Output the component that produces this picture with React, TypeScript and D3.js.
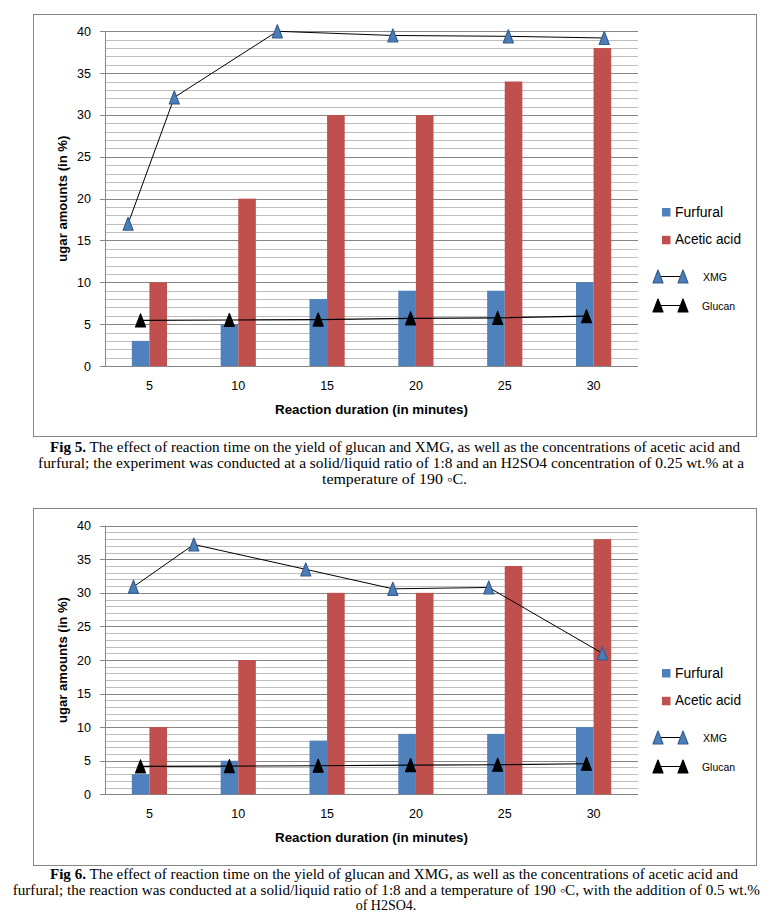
import React from 'react';
import * as d3 from 'd3';

// ---------- data ----------
const minutes = [5, 10, 15, 20, 25, 30];
const yTicks = [0, 5, 10, 15, 20, 25, 30, 35, 40];
const furfural = [3, 5, 8, 9, 9, 10];
const aceticAcid = [10, 20, 30, 30, 34, 38];

// Fig 5 lines (x position of markers, expressed in minutes)
const xmgFig5 = [17, 32.1, 40, 39.5, 39.4, 39.2];
const xmgFig5Time = [3.8, 6.4, 12.2, 18.7, 25.2, 30.6];
const glucanFig5 = [5.45, 5.5, 5.55, 5.7, 5.75, 5.95];

// Fig 6 lines
const xmgFig6 = [30.9, 37.2, 33.5, 30.6, 30.8, 21.0];
const xmgFig6Time = [4.1, 7.5, 13.8, 18.7, 24.1, 30.5];
const glucanFig6 = [4.15, 4.2, 4.25, 4.35, 4.4, 4.55];

const glucanTime = [4.5, 9.5, 14.5, 19.7, 24.6, 29.6];

const seriesNames = ['Furfural', 'Acetic acid', 'XMG', 'Glucan'];
const yTitle = 'ugar amounts (in %)';
const xTitle = 'Reaction duration (in minutes)';

const caption5 = [
  { bold: 'Fig 5.', text: ' The effect of reaction time on the yield of glucan and XMG, as well as the concentrations of acetic acid and' },
  { bold: '', text: 'furfural; the experiment was conducted at a solid/liquid ratio of 1:8 and an H2SO4 concentration of 0.25 wt.% at a' },
  { bold: '', text: 'temperature of 190 \u25E6C.' },
];
const caption6 = [
  { bold: 'Fig 6.', text: ' The effect of reaction time on the yield of glucan and XMG, as well as the concentrations of acetic acid and' },
  { bold: '', text: 'furfural; the reaction was conducted at a solid/liquid ratio of 1:8 and a temperature of 190 \u25E6C, with the addition of 0.5 wt.%' },
  { bold: '', text: 'of H2SO4.' },
];

// ---------- styles ----------
const BLUE = '#4F81BD';
const RED = '#C0504D';
const XMG_FILL = '#4A7EBB';
const XMG_STROKE = '#385D8A';
const SANS = "'Liberation Sans', Arial, sans-serif";
const SERIF = "'Liberation Serif', 'Times New Roman', serif";

function Tri({ x, y, fill, stroke }: { x: number; y: number; fill: string; stroke: string }) {
  const w = 10, h = 13;
  return (
    <path
      d={`M${x},${y - h / 2} L${x + w / 2},${y + h / 2} L${x - w / 2},${y + h / 2} Z`}
      fill={fill}
      stroke={stroke}
      strokeWidth={1.2}
      strokeLinejoin="round"
    />
  );
}

type ChartProps = {
  frameTop: number;
  frameBottom: number;
  plotTop: number;
  plotBottom: number;
  xTickBase: number;
  xTitleBase: number;
  legendTop: number;
  xmg: number[];
  xmgTime: number[];
  glucan: number[];
};

function Chart(p: ChartProps) {
  const left = 105, right = 638;
  const x = d3.scaleBand<string>().domain(minutes.map(String)).range([left, right]).padding(0);
  const step = x.step();
  const groupW = step * 0.396;
  const x1 = d3.scaleBand<string>().domain(['f', 'a']).range([0, groupW]).padding(0);
  const y = d3.scaleLinear().domain([0, 40]).range([p.plotBottom, p.plotTop]);
  const cx = (m: number) => (x(String(m)) as number) + step / 2;
  const t = d3.scaleLinear().domain([5, 30]).range([cx(5), cx(30)]);
  const minor = d3.range(0, 41, 1);
  const line = d3.line<[number, number]>().x(d => d[0]).y(d => d[1]);
  const xmgPts: [number, number][] = p.xmg.map((v, i) => [t(p.xmgTime[i]), y(v)]);
  const gluPts: [number, number][] = p.glucan.map((v, i) => [t(glucanTime[i]), y(v)]);
  const ly = p.legendTop;
  const yMid = (p.plotTop + p.plotBottom) / 2;

  return (
    <g>
      <rect x={33.5} y={p.frameTop + 0.5} width={723} height={p.frameBottom - p.frameTop} fill="#fff" stroke="#868686" strokeWidth={1} />
      {minor.map(v => (
        <line key={'m' + v} x1={left} x2={right} y1={Math.round(y(v)) + 0.5} y2={Math.round(y(v)) + 0.5}
          stroke={v % 5 === 0 ? '#868686' : '#BDBDBD'} strokeWidth={1} />
      ))}
      {yTicks.map(v => (
        <line key={'t' + v} x1={left - 5} x2={left} y1={Math.round(y(v)) + 0.5} y2={Math.round(y(v)) + 0.5} stroke="#868686" />
      ))}
      <line x1={left + 0.5} x2={left + 0.5} y1={y(40)} y2={y(0)} stroke="#868686" />
      {minutes.map((m, i) => {
        const gx = cx(m) - groupW / 2;
        return (
          <g key={'b' + m}>
            <rect x={gx + (x1('f') as number)} y={y(furfural[i])} width={x1.bandwidth()} height={y(0) - y(furfural[i])} fill={BLUE} />
            <rect x={gx + (x1('a') as number)} y={y(aceticAcid[i])} width={x1.bandwidth()} height={y(0) - y(aceticAcid[i])} fill={RED} />
          </g>
        );
      })}
      {yTicks.map(v => (
        <text key={'yl' + v} x={91} y={y(v) + 4.5} textAnchor="end" fontFamily={SANS} fontSize={12.5} fill="#000">{v}</text>
      ))}
      {minutes.map(m => (
        <text key={'xl' + m} x={cx(m)} y={p.xTickBase} textAnchor="middle" fontFamily={SANS} fontSize={12.5} fill="#000">{m}</text>
      ))}
      <path d={line(xmgPts) as string} fill="none" stroke="#000" strokeWidth={1} />
      <path d={line(gluPts) as string} fill="none" stroke="#000" strokeWidth={1.2} />
      {xmgPts.map((d, i) => <Tri key={'x' + i} x={d[0]} y={d[1]} fill={XMG_FILL} stroke={XMG_STROKE} />)}
      {gluPts.map((d, i) => <Tri key={'g' + i} x={d[0]} y={d[1]} fill="#000" stroke="#000" />)}
      <text x={(left + right) / 2} y={p.xTitleBase} textAnchor="middle" fontFamily={SANS} fontWeight="bold" fontSize={13.5}
        textLength={193} lengthAdjust="spacingAndGlyphs">{xTitle}</text>
      <text transform={`translate(67,${yMid}) rotate(-90)`} textAnchor="middle" fontFamily={SANS} fontWeight="bold" fontSize={13.5}
        textLength={126} lengthAdjust="spacingAndGlyphs">{yTitle}</text>
      <rect x={662} y={ly} width={8.5} height={8.5} fill={BLUE} />
      <text x={675} y={ly + 8.5} fontFamily={SANS} fontSize={14} textLength={48} lengthAdjust="spacingAndGlyphs">{seriesNames[0]}</text>
      <rect x={662} y={ly + 27.8} width={8.5} height={8.5} fill={RED} />
      <text x={675} y={ly + 36.3} fontFamily={SANS} fontSize={14} textLength={66} lengthAdjust="spacingAndGlyphs">{seriesNames[1]}</text>
      <line x1={658} x2={683} y1={ly + 68.5} y2={ly + 68.5} stroke="#000" />
      <Tri x={658} y={ly + 68.5} fill={XMG_FILL} stroke={XMG_STROKE} />
      <Tri x={683} y={ly + 68.5} fill={XMG_FILL} stroke={XMG_STROKE} />
      <text x={703} y={ly + 73} fontFamily={SANS} fontSize={11} textLength={24} lengthAdjust="spacingAndGlyphs">{seriesNames[2]}</text>
      <line x1={658} x2={683} y1={ly + 97.5} y2={ly + 97.5} stroke="#000" />
      <Tri x={658} y={ly + 97.5} fill="#000" stroke="#000" />
      <Tri x={683} y={ly + 97.5} fill="#000" stroke="#000" />
      <text x={702} y={ly + 102} fontFamily={SANS} fontSize={11} textLength={33} lengthAdjust="spacingAndGlyphs">{seriesNames[3]}</text>
    </g>
  );
}

type Line = { bold: string; text: string };
type Span = { x0: number; x1?: number; base: number; center?: boolean };
function Caption({ lines, spans }: { lines: Line[]; spans: Span[] }) {
  return (
    <g>
      {lines.map((l, i) => {
        const s = spans[i];
        const fit = s.x1 !== undefined && !s.center;
        return (
          <text key={i} x={s.x0} y={s.base} fontFamily={SERIF} fontSize={14}
            textAnchor={s.center ? 'middle' : 'start'}
            textLength={fit ? (s.x1 as number) - s.x0 : undefined}
            lengthAdjust={fit ? 'spacingAndGlyphs' : undefined}>
            {l.bold ? <tspan fontWeight="bold">{l.bold}</tspan> : null}
            {l.text}
          </text>
        );
      })}
    </g>
  );
}

export default function App() {
  return (
    <svg width={779} height={917} style={{ position: 'absolute', left: 0, top: 0, background: '#fff' }}>
      <rect width={779} height={917} fill="#fff" />
      <Chart frameTop={14} frameBottom={436} plotTop={31.3} plotBottom={366} xTickBase={390} xTitleBase={414}
        legendTop={208} xmg={xmgFig5} xmgTime={xmgFig5Time} glucan={glucanFig5} />
      <Caption lines={caption5} spans={[
        { x0: 50, x1: 740, base: 452 },
        { x0: 38, x1: 744, base: 468 },
        { x0: 322, x1: 467, base: 484 },
      ]} />
      <Chart frameTop={508} frameBottom={865} plotTop={525.7} plotBottom={794.3} xTickBase={818.3} xTitleBase={841.7}
        legendTop={669} xmg={xmgFig6} xmgTime={xmgFig6Time} glucan={glucanFig6} />
      <Caption lines={caption6} spans={[
        { x0: 50, x1: 738, base: 878.5 },
        { x0: 12.7, x1: 760, base: 894.5 },
        { x0: 386, base: 910, center: true },
      ]} />
    </svg>
  );
}
